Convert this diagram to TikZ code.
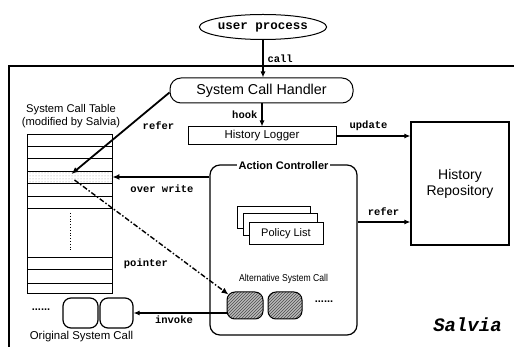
\documentclass[tikz,border=0pt]{standalone}
\usepackage{graphicx}
\usepackage{fontspec}
\setmainfont{Liberation Sans}
\setmonofont{Liberation Mono}
\usetikzlibrary{shapes.geometric,patterns,arrows.meta}
\newcommand{\fs}[1]{\fontsize{#1}{#1}\selectfont}
\begin{document}
\begin{tikzpicture}[x=1pt,y=-1pt,
  lbl/.style={font=\fs{10.5}\ttfamily\bfseries, inner sep=0pt},
  sans/.style={inner sep=0pt},
  box/.style={draw, line width=1pt, inner sep=0pt},
  arr/.style={-{Latex[length=6pt,width=5pt]}, line width=1.1pt},
  tarr/.style={-{Latex[length=7pt,width=6pt]}, line width=1.8pt},
  hatch/.style={box, rounded corners=8pt, preaction={fill=gray!55}, pattern=north east lines, pattern color=black!70},
  ocall/.style={box, rounded corners=8pt, line width=1.2pt}
]
\useasboundingbox (0,0) rectangle (514,347);
% frame
\draw[line width=1.1pt] (514,66) -- (9,66) -- (9,347);

% user process
\node[draw, ellipse, line width=1pt, minimum width=112pt, minimum height=25pt, inner sep=0pt,
      font=\fs{12.5}\ttfamily\bfseries] (up) at (263,27) {user process};
% handler
\node[box, rounded corners=11pt, minimum width=183pt, minimum height=25pt, font=\fs{14.3}] (handler) at (261.5,90.5) {System Call Handler};
% logger
\node[box, minimum width=148pt, minimum height=18pt, font=\fs{11.5}] (logger) at (262,136) {History Logger};
% repository
\node[box, line width=1.3pt, minimum width=98pt, minimum height=123pt, align=center, font=\fontsize{14}{16}\selectfont] (repo) at (460,183.5) {History\\Repository};

% action controller
\node[box, rounded corners=10pt, line width=1.2pt, minimum width=147pt, minimum height=170pt] (ac) at (283.5,250) {};
\node[fill=white, inner sep=2pt, font=\fs{11}\bfseries] (actitle) at (283.5,166) {Action Controller};

% policy list stack
\node[box, fill=white, minimum width=73pt, minimum height=22pt] (pl3) at (273.5,218) {};
\node[box, fill=white, minimum width=74pt, minimum height=22pt] (pl2) at (280,225) {};
\node[box, fill=white, minimum width=74pt, minimum height=22pt, font=\fs{11}] (pl1) at (286,234) {Policy List};

\node[sans, font=\fs{10}] (altlbl) at (283.5,279) {\scalebox{0.86}[1]{Alternative System Call}};
\node[hatch, minimum width=36pt, minimum height=27pt] (alt1) at (245,305.5) {};
\node[hatch, minimum width=34pt, minimum height=27pt] (alt2) at (285,305.5) {};
\node[sans, font=\fs{11}\bfseries] (altdots) at (324,302) {......};

% original system calls
\node[ocall, minimum width=35pt, minimum height=30pt] (orig1) at (80.5,313) {};
\node[ocall, minimum width=33pt, minimum height=30pt] (orig2) at (116.5,313) {};
\node[sans, font=\fs{11}\bfseries] (origdots) at (41,310) {......};
\node[sans, font=\fs{11.4}] (origlbl) at (81.5,337) {Original System Call};

% system call table
\node[sans, align=center, font=\fontsize{11.2}{12.5}\selectfont] (tbllbl) at (71,116) {System Call Table\\(modified by Salvia)};
\node[box, minimum width=85pt, minimum height=159pt] (tbl) at (69.5,214.5) {};
\node[draw, line width=0.8pt, inner sep=0pt, pattern=dots, pattern color=gray!80, minimum width=85pt, minimum height=12pt] (slot) at (69.5,177) {};
\foreach \yy in {146,158,196,208,257,269,283}
  \draw[line width=0.9pt] (27,\yy) -- (112,\yy);
\draw[line width=0.8pt, dotted] (70,213) -- (70,250);

% Salvia
\node[sans, font=\fs{19}\ttfamily\bfseries\itshape] (salvia) at (467.5,325) {Salvia};

% connectors
\draw[arr] (up.south) -- (up.south |- handler.north) node[lbl, midway, anchor=west, xshift=4pt] (lcall) {call};
\draw[arr] (handler.south -| logger.north) -- (logger.north) node[lbl, midway, anchor=east, xshift=-4pt] (lhook) {hook};
\draw[arr] (logger.east) -- (logger.east -| repo.west);
\node[lbl] (lupdate) at (368.5,126) {update};
\coordinate (rf) at ([yshift=28pt]ac.east);
\draw[arr] (rf) -- (rf -| repo.west);
\node[lbl] (lrefer2) at (383.5,212) {refer};

\draw[tarr] ([yshift=-2pt]handler.west) -- ([xshift=2pt,yshift=3pt]slot.center);
\node[lbl] (lrefer1) at (158.5,126) {refer};
\draw[tarr] (ac.west |- slot.east) -- (slot.east);
\node[lbl] (lover) at (162,189) {over write};
\draw[-{Latex[length=7pt,width=6pt]}, line width=1.4pt, dash pattern=on 5pt off 2pt on 1.5pt off 2pt] ([xshift=5pt,yshift=-3pt]slot.center) -- ([xshift=2pt,yshift=-3pt]alt1.north west);
\node[lbl] (lpointer) at (146,264) {pointer};
\draw[arr] (alt1.west |- orig2.east) -- (orig2.east);
\node[lbl] (linvoke) at (174,320) {invoke};
\end{tikzpicture}
\end{document}
